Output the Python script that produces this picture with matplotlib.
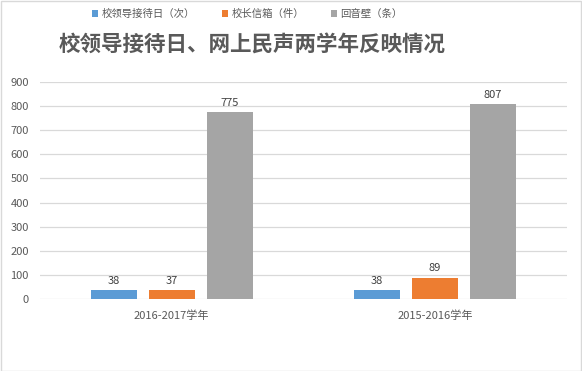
import matplotlib.pyplot as plt
import numpy as np

plt.rcParams['font.family'] = ['Noto Sans CJK SC', 'DejaVu Sans']

years = ['2016-2017学年', '2015-2016学年']
series = ['校领导接待日（次）', '校长信箱（件）', '回音壁（条）']
vals_leader = [38, 38]
vals_mail = [37, 89]
vals_wall = [775, 807]
colors = ['#5b9bd5', '#ed7d31', '#a5a5a5']

fig = plt.figure(figsize=(5.82, 3.71), dpi=100)
ax = fig.add_axes([0.0687, 0.194, 0.905, 0.585])

x = np.arange(len(years))
w = 0.175
offs = [-0.22, 0, 0.22]
for data, off, c, name in zip([vals_leader, vals_mail, vals_wall], offs, colors, series):
    bars = ax.bar(x + off, data, w, color=c, label=name, zorder=3)
    for b, v in zip(bars, data):
        ax.text(b.get_x() + b.get_width() / 2, v + 18, str(v), ha='center', va='bottom',
                fontsize=8, color='#404040')

ax.set_xlim(-0.5, 1.5)
ax.set_ylim(0, 900)
ax.set_yticks(range(0, 901, 100))
ax.set_xticks(x)
ax.set_xticklabels(years)
ax.yaxis.grid(True, color='#d9d9d9', linewidth=0.9, zorder=0)
for s in ax.spines.values():
    s.set_visible(False)
ax.tick_params(axis='both', length=0, labelsize=8, labelcolor='#595959')
ax.tick_params(axis='x', pad=8)
ax.tick_params(axis='y', pad=8)

fig.text(0.433, 0.878, '校领导接待日、网上民声两学年反映情况', ha='center', va='center',
         fontsize=15.5, fontweight='bold', color='#595959')
fig.legend(loc='center', bbox_to_anchor=(0.425, 0.962), ncol=3, frameon=False,
           fontsize=7.5, handlelength=0.6, handleheight=0.6, handletextpad=0.3,
           columnspacing=2.6, labelcolor='#595959')

fig.patches.append(plt.Rectangle((0.001, 0.001), 0.997, 0.997, transform=fig.transFigure,
                                 fill=False, edgecolor='#d9d9d9', linewidth=1))
fig.savefig('out.png', dpi=100)
